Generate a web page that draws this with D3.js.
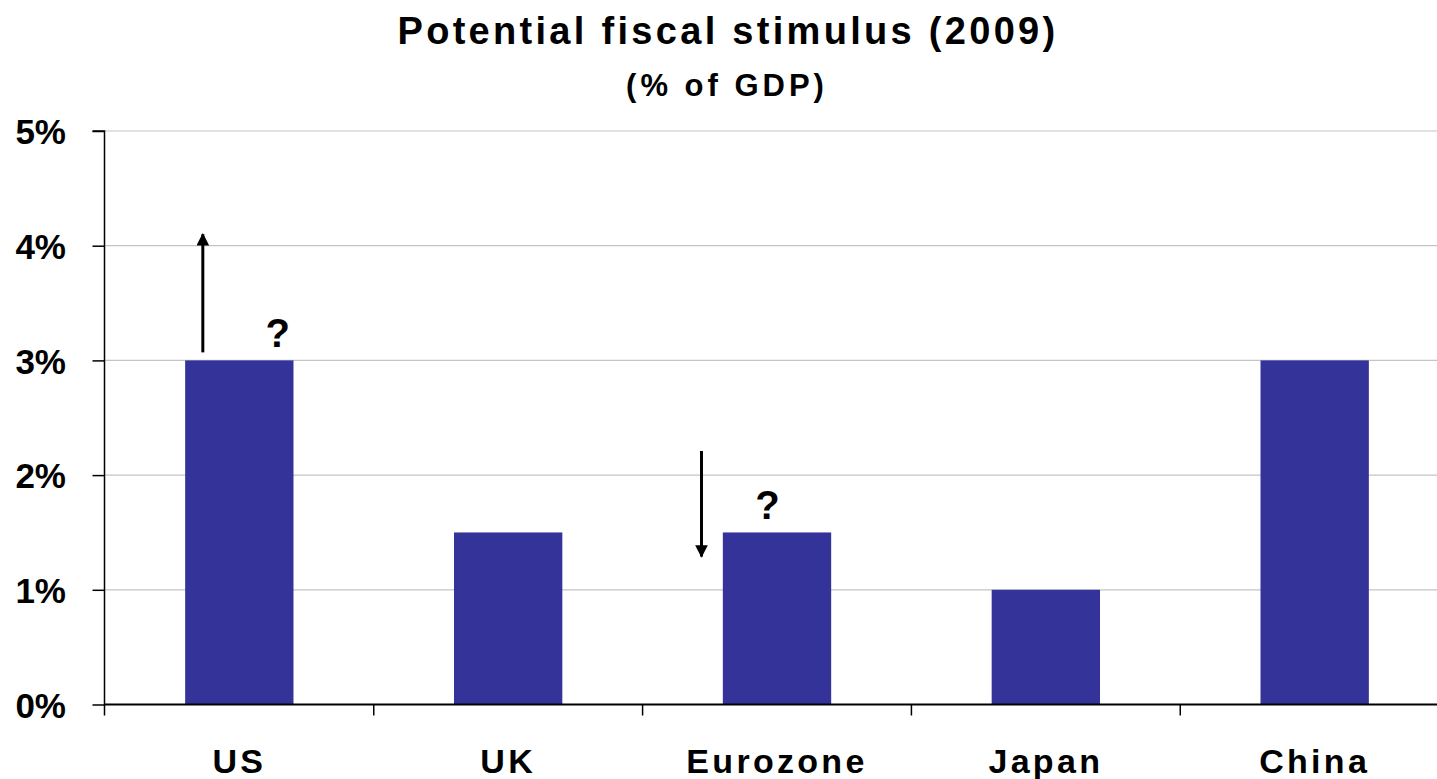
<!DOCTYPE html>
<html>
<head>
<meta charset="utf-8">
<script src="https://cdnjs.cloudflare.com/ajax/libs/d3/7.8.5/d3.min.js"></script>
<style>
  body { margin: 0; background: #fff; }
  text { font-family: "Liberation Sans", Arial, sans-serif; font-weight: bold; fill: #000; }
</style>
</head>
<body>
<svg id="chart" width="1437" height="779"></svg>
<script>
// data
var countries = ["US", "UK", "Eurozone", "Japan", "China"]
var stimulus = [3.0, 1.5, 1.5, 1.0, 3.0]
var yTicks = [0, 1, 2, 3, 4, 5]

// arrows: which country, start and end value (% of GDP)
var arrowCountries = ["US", "Eurozone"]
var arrowFrom = [3.07, 2.21]
var arrowTo = [4.10, 1.29]
var questionCountries = ["US", "Eurozone"]

function draw() {
  var svg = d3.select("#chart")
  var left = 104.5, bottom = 704.5, yTop = 131

  var x = d3.scaleBand()
    .domain(countries)
    .range([left, left + 5 * 269])
    .paddingInner(0.597)
    .paddingOuter(0.3)
  var y = d3.scaleLinear().domain([0, 5]).range([bottom, yTop])

  // gridlines
  svg.append("g").selectAll("line")
    .data(yTicks.filter(function(d){ return d > 0 }))
    .enter().append("line")
    .attr("x1", left).attr("x2", 1437)
    .attr("y1", function(d){ return y(d) }).attr("y2", function(d){ return y(d) })
    .attr("stroke", "#c4c4c4").attr("stroke-width", 1.2)

  // bars
  svg.append("g").selectAll("rect")
    .data(stimulus)
    .enter().append("rect")
    .attr("x", function(d, i){ return x(countries[i]) })
    .attr("y", function(d){ return y(d) })
    .attr("width", x.bandwidth())
    .attr("height", function(d){ return y(0) - y(d) })
    .attr("fill", "#333399")

  // y axis
  var yAxis = svg.append("g")
    .attr("transform", "translate(" + left + ",0)")
    .call(d3.axisLeft(y).tickValues(yTicks).tickSize(12).tickPadding(26.5)
      .tickFormat(function(d){ return d + "%" }))
  yAxis.select(".domain").attr("stroke", "#000").attr("stroke-width", 1.5)
    .attr("d", "M-12," + yTop + "H0V" + (bottom + 11))
  yAxis.selectAll(".tick line").attr("stroke", "#000").attr("stroke-width", 1.5)
  yAxis.selectAll(".tick text")
    .style("font-size", "35px")
    .attr("dy", "0.36em")

  // x axis: line + ticks between categories
  svg.append("line")
    .attr("x1", left).attr("x2", 1437)
    .attr("y1", bottom).attr("y2", bottom)
    .attr("stroke", "#000").attr("stroke-width", 1.8)
  var bounds = countries.map(function(c){ return x(c) - x.step() * x.paddingInner() / 2 })
  svg.append("g").selectAll("line")
    .data(bounds.slice(1))
    .enter().append("line")
    .attr("x1", function(d){ return d }).attr("x2", function(d){ return d })
    .attr("y1", bottom).attr("y2", bottom + 11)
    .attr("stroke", "#000").attr("stroke-width", 1.5)
  svg.append("g").selectAll("text")
    .data(countries)
    .enter().append("text")
    .attr("x", function(d){ return x(d) + x.bandwidth() / 2 })
    .attr("y", 773)
    .attr("text-anchor", "middle")
    .style("font-size", "34px").style("letter-spacing", "3.3px")
    .text(function(d){ return d })

  // arrows
  svg.append("defs").append("marker")
    .attr("id", "head")
    .attr("viewBox", "0 0 10 10")
    .attr("refX", 9).attr("refY", 5)
    .attr("markerWidth", 4.2).attr("markerHeight", 4.2)
    .attr("markerUnits", "strokeWidth")
    .attr("orient", "auto")
    .append("path").attr("d", "M0,0L10,5L0,10Z").attr("fill", "#000")

  var arrowDx = [-36.5, -75.5]
  svg.append("g").selectAll("line")
    .data(arrowCountries)
    .enter().append("line")
    .attr("x1", function(d, i){ return x(d) + x.bandwidth() / 2 + arrowDx[i] })
    .attr("x2", function(d, i){ return x(d) + x.bandwidth() / 2 + arrowDx[i] })
    .attr("y1", function(d, i){ return y(arrowFrom[i]) })
    .attr("y2", function(d, i){ return y(arrowTo[i]) })
    .attr("stroke", "#000").attr("stroke-width", 3)
    .attr("marker-end", "url(#head)")

  // question marks above bars
  var qDx = [38.5, -9.5]
  svg.append("g").selectAll("text")
    .data(questionCountries)
    .enter().append("text")
    .attr("x", function(d, i){ return x(d) + x.bandwidth() / 2 + qDx[i] })
    .attr("y", function(d){ return y(stimulus[countries.indexOf(d)]) - 13 })
    .attr("text-anchor", "middle")
    .style("font-size", "40px")
    .text("?")

  // title
  svg.append("text").attr("x", 728).attr("y", 44).attr("text-anchor", "middle")
    .style("font-size", "38px").style("letter-spacing", "3.3px")
    .text("Potential fiscal stimulus (2009)")
  svg.append("text").attr("x", 727).attr("y", 96).attr("text-anchor", "middle")
    .style("font-size", "31px").style("letter-spacing", "4px")
    .text("(% of GDP)")
}
draw()
</script>
</body>
</html>
